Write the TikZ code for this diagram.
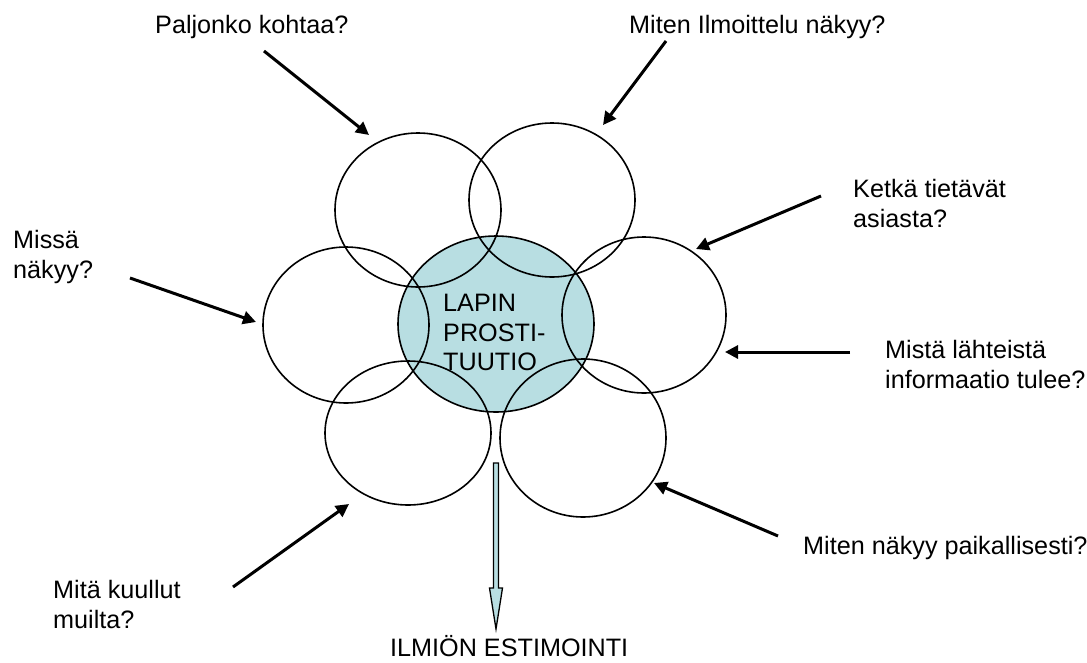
\documentclass[tikz,border=0pt]{standalone}
\usepackage{fontspec}
\setmainfont{Liberation Sans}
\usetikzlibrary{arrows.meta}
\definecolor{petal}{RGB}{184,222,226}
\tikzset{
  lbl/.style={anchor=base west, inner sep=0pt, font=\fontsize{25.2}{30}\selectfont},
  ring/.style={draw=black, line width=1.6pt},
  ask/.style={draw=black, line width=3pt, -{Triangle[length=13pt,width=13pt]}},
}
\begin{document}
\begin{tikzpicture}[x=1pt,y=-1pt]
\useasboundingbox (0,0) rectangle (1087,662);
% centre fill
\fill[petal] (496,324) ellipse [x radius=98, y radius=88];
% circles
\draw[ring] (496,324) ellipse [x radius=98, y radius=88];
\draw[ring] (418,210) ellipse [x radius=83, y radius=77];
\draw[ring] (552,200) ellipse [x radius=83, y radius=77];
\draw[ring] (346,325) ellipse [x radius=83, y radius=78];
\draw[ring] (644,315) ellipse [x radius=82, y radius=78];
\draw[ring] (408,433) ellipse [x radius=83, y radius=72];
\draw[ring] (583,438) ellipse [x radius=83, y radius=79];
% centre text
\node[lbl] (c1) at (443,311) {LAPIN};
\node[lbl] (c2) at (443,341) {PROSTI-};
\node[lbl] (c3) at (443,370) {TUUTIO};
% labels
\node[lbl] (t1) at (155,33) {Paljonko kohtaa?};
\node[lbl] (t2) at (629,33) {Miten Ilmoittelu näkyy?};
\node[lbl] (t3a) at (853,197) {Ketkä tietävät};
\node[lbl] (t3b) at (853,227) {asiasta?};
\node[lbl] (t4a) at (13,248) {Missä};
\node[lbl] (t4b) at (13,278) {näkyy?};
\node[lbl] (t5a) at (885,358) {Mistä lähteistä};
\node[lbl] (t5b) at (885,388) {informaatio tulee?};
\node[lbl] (t6a) at (53,598) {Mitä kuullut};
\node[lbl] (t6b) at (53,628) {muilta?};
\node[lbl] (t7) at (803,554) {Miten näkyy paikallisesti?};
\node[lbl] (t8) at (390,656) {ILMIÖN ESTIMOINTI};
% arrow coordinates
\coordinate (a1s) at (264,51);  \coordinate (a1e) at (369,135);
\coordinate (a2s) at (666,41);  \coordinate (a2e) at (603,125);
\coordinate (a3s) at (821,196); \coordinate (a3e) at (696,249);
\coordinate (a4s) at (130,278); \coordinate (a4e) at (256,322);
\coordinate (a5s) at (850,352); \coordinate (a5e) at (725,352);
\coordinate (a6s) at (233,587); \coordinate (a6e) at (349,504);
\coordinate (a7s) at (778,536); \coordinate (a7e) at (654,483);
\draw[ask] (a1s) -- (a1e);
\draw[ask] (a2s) -- (a2e);
\draw[ask] (a3s) -- (a3e);
\draw[ask] (a4s) -- (a4e);
\draw[ask] (a5s) -- (a5e);
\draw[ask] (a6s) -- (a6e);
\draw[ask] (a7s) -- (a7e);
% block arrow down
\draw[fill=petal, line width=1.3pt, line join=miter]
  (493.5,463) -- (498.5,463) -- (498.5,588) -- (502.5,588) -- (496,629)
  -- (489.5,588) -- (493.5,588) -- cycle;
\end{tikzpicture}
\end{document}
